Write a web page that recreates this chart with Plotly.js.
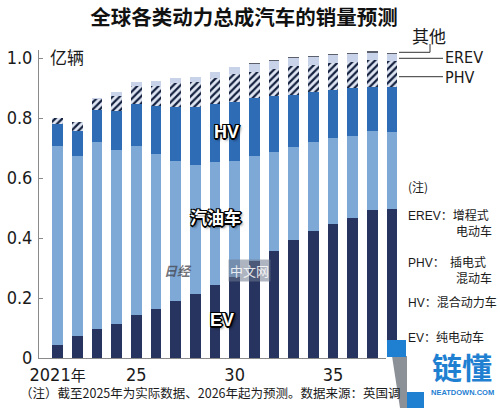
<!DOCTYPE html>
<html>
<head>
<meta charset="utf-8">
<script src="https://cdn.plot.ly/plotly-3.0.1.min.js"></script>
<style>
  html, body { margin: 0; padding: 0; background: #fff; }
  #chart { width: 500px; height: 408px; }
</style>
</head>
<body>
<div id="chart"></div>
<script>
// Global sales forecast by powertrain (100 million vehicles)
const years = [2021, 2022, 2023, 2024, 2025, 2026, 2027, 2028, 2029,
               2030, 2031, 2032, 2033, 2034, 2035, 2036, 2037, 2038];
const ev       = [0.045, 0.074, 0.098, 0.112, 0.145, 0.164, 0.190, 0.212, 0.245,
                  0.270, 0.323, 0.358, 0.392, 0.423, 0.448, 0.467, 0.492, 0.496];
const gasoline = [0.663, 0.600, 0.622, 0.583, 0.562, 0.517, 0.467, 0.432, 0.407,
                  0.388, 0.349, 0.328, 0.311, 0.297, 0.284, 0.272, 0.264, 0.257];
const hv       = [0.071, 0.084, 0.106, 0.127, 0.140, 0.159, 0.181, 0.194, 0.196,
                  0.195, 0.194, 0.187, 0.175, 0.166, 0.160, 0.161, 0.149, 0.149];
const phv      = [0.021, 0.029, 0.036, 0.053, 0.061, 0.068, 0.078, 0.081, 0.085,
                  0.094, 0.087, 0.091, 0.097, 0.092, 0.091, 0.088, 0.087, 0.087];
const erev     = [0.000, 0.000, 0.005, 0.013, 0.011, 0.017, 0.017, 0.019, 0.022,
                  0.022, 0.028, 0.025, 0.024, 0.027, 0.026, 0.026, 0.026, 0.025];
const other    = [0, 0, 0, 0, 0, 0, 0, 0, 0,
                  0, 0.003, 0.005, 0.004, 0.003, 0.005, 0.004, 0.005, 0.004];

const xTickVals = [2021, 2025, 2030, 2035];
const xTickText = ['2021<span style="font-size:15px">年</span>', '25', '30', '35'];
const yTickVals = [0, 0.2, 0.4, 0.6, 0.8, 1.0];
const yTickText = ['0', '0.2', '0.4', '0.6', '0.8', '1.0'];

// plot frame in pixels
const W = 500, H = 408;
const L = 39, R = 404, T = 50, B = 358;
const px = x => (x - L) / (R - L);
const py = y => (B - y) / (B - T);

const CJK = '"Noto Sans CJK SC", "Noto Sans", sans-serif';
const NARROW = '"Liberation Sans Narrow", "DejaVu Sans Condensed", "Liberation Sans", ' + CJK;
const LAT = '<span style="font-family:Liberation Sans Narrow, Liberation Sans">';
const BARW = 0.545;

function layer(name, vals, color, extra) {
  return {
    type: 'bar', name: name, x: years, y: vals, width: BARW,
    marker: Object.assign({ color: color, line: { width: 0 } }, extra || {}),
    hoverinfo: 'skip', showlegend: false
  };
}

const traces = [
  layer('EV', ev, '#27345f'),
  layer('汽油车', gasoline, '#7ea9d6'),
  layer('HV', hv, '#2f6cb6'),
  layer('PHV', phv, '#e0e6f3', {
    pattern: { shape: '/', fgcolor: '#14213f', bgcolor: '#e0e6f3', size: 5, solidity: 0.45 }
  }),
  layer('EREV', erev, '#c8d3ea'),
  layer('其他', other, '#5b606c')
];

const outline = '1px 1px 0 #000, -1px -1px 0 #000, 1px -1px 0 #000, -1px 1px 0 #000, 0 2px 0 #000, 2px 0 0 #000, 2px 2px 3px rgba(0,0,0,0.7)';

function note(text, x, y, opts) {
  return Object.assign({
    text: text, xref: 'paper', yref: 'paper', x: px(x), y: py(y),
    xanchor: 'left', yanchor: 'middle', showarrow: false, align: 'left',
    font: { family: CJK, size: 12, color: '#1a1a1a' }
  }, opts || {});
}

const annotations = [
  note('亿辆', 48, 57, { font: { family: CJK, size: 17, color: '#1a1a1a' } }),
  // labels inside the bars
  note('HV', 226, 132, { xanchor: 'center',
    font: { family: '"Liberation Sans", sans-serif', size: 18, weight: 700, color: '#fff', shadow: outline } }),
  note('汽油车', 215, 216, { xanchor: 'center',
    font: { family: CJK, size: 17, weight: 700, color: '#fff', shadow: outline } }),
  note('EV', 222, 320, { xanchor: 'center',
    font: { family: '"Liberation Sans", sans-serif', size: 18, weight: 700, color: '#fff', shadow: outline } }),
  // call-outs on the right of the last bar
  note('其他', 410, 35, { font: { family: CJK, size: 17, color: '#1a1a1a' } }),
  note('EREV', 444, 57.5, { borderpad: 0, font: { family: NARROW, size: 16, color: '#1a1a1a' } }),
  note('PHV', 444, 77, { borderpad: 0, font: { family: NARROW, size: 16, color: '#1a1a1a' } }),
  // glossary
  note('(注)', 406, 186),
  note(LAT + 'EREV</span>：增程式<br>' + LAT + '　　　　</span>电动车', 406, 222.5),
  note(LAT + 'PHV</span>：  插电式<br>' + LAT + '　　　　</span>混动车', 406, 269.5),
  note(LAT + 'HV</span>：混合动力车', 406, 301),
  note(LAT + 'EV</span>：纯电动车', 406, 336),
  // footnote
  note('（注）截至2025年为实际数据、2026年起为预测。数据来源：英国调', 18, 393, { font: { family: CJK, size: 12.5, color: '#1a1a1a' } }),
  // faint publisher mark over the bars
  note('日经', 178, 270, { xanchor: 'center',
    font: { family: CJK, size: 13, weight: 700, color: 'rgba(70,70,80,0.75)', style: 'italic' } }),
  note('中文网', 249, 270, { xanchor: 'center', bgcolor: 'rgba(110,120,140,0.55)', borderpad: 1,
    font: { family: CJK, size: 13, color: 'rgba(255,255,255,0.85)' } }),
  // corner logo
  note('链懂', 462, 365.5, { xanchor: 'center',
    font: { family: CJK, size: 30, weight: 700, color: '#1f80d2' } }),
  note('NEATDOWN.COM', 463, 392.5, { xanchor: 'center', borderpad: 0,
    font: { family: '"Liberation Sans", sans-serif', size: 7.5, weight: 700, color: '#1f80d2' } })
];

const lineStyle = { color: '#333', width: 1 };
const shapes = [
  { type: 'path', xref: 'paper', yref: 'paper', line: lineStyle,
    path: `M ${px(399)} ${py(52.3)} L ${px(430)} ${py(52.3)} L ${px(430)} ${py(44)}` },
  { type: 'line', xref: 'paper', yref: 'paper', line: lineStyle,
    x0: px(399), x1: px(443), y0: py(58.3), y1: py(58.3) },
  { type: 'line', xref: 'paper', yref: 'paper', line: lineStyle,
    x0: px(399), x1: px(443), y0: py(76.7), y1: py(76.7) },
  // logo panel
  { type: 'rect', xref: 'paper', yref: 'paper', layer: 'above', line: { width: 0 }, fillcolor: '#fff',
    x0: px(386), x1: px(500), y0: py(340), y1: py(408) },
  { type: 'path', xref: 'paper', yref: 'paper', layer: 'above', line: { width: 0 }, fillcolor: '#8c9198',
    path: `M ${px(392)} ${py(356)} L ${px(407)} ${py(356)} L ${px(407)} ${py(392)} L ${px(424)} ${py(392)} L ${px(424)} ${py(408)} L ${px(400)} ${py(408)} Z` },
  { type: 'rect', xref: 'paper', yref: 'paper', layer: 'above', line: { width: 0 }, fillcolor: '#1f80d2',
    x0: px(387), x1: px(406), y0: py(340), y1: py(357) },
  { type: 'rect', xref: 'paper', yref: 'paper', layer: 'above', line: { width: 0 }, fillcolor: '#1f80d2',
    x0: px(407), x1: px(424), y0: py(392), y1: py(408) }
];

const layout = {
  width: W, height: H,
  margin: { l: L, r: W - R, t: T, b: H - B, pad: 0 },
  paper_bgcolor: '#fff', plot_bgcolor: '#fff',
  barmode: 'stack',
  showlegend: false,
  hovermode: false,
  title: {
    text: '全球各类动力总成汽车的销量预测',
    x: 244 / W, xanchor: 'center', xref: 'container',
    y: 1 - 17.5 / H, yanchor: 'middle', yref: 'container',
    font: { family: CJK, size: 20.5, weight: 700, color: '#111' }
  },
  xaxis: {
    range: [2020.054, 2038.61], tickvals: xTickVals, ticktext: xTickText,
    showgrid: false, zeroline: false, showline: true, linecolor: '#8a8a8a', linewidth: 1,
    ticks: '', tickfont: { family: NARROW, size: 18, color: '#1a1a1a' }, fixedrange: true
  },
  yaxis: {
    range: [0, (B - T) / 300], tickvals: yTickVals, ticktext: yTickText,
    showgrid: false, zeroline: false, showline: true, linecolor: '#8a8a8a', linewidth: 1,
    ticks: 'inside', ticklen: 4, tickcolor: '#8a8a8a', ticklabelstandoff: 2,
    tickfont: { family: NARROW, size: 18, color: '#1a1a1a' }, fixedrange: true
  },
  annotations: annotations,
  shapes: shapes
};

Plotly.newPlot('chart', traces, layout, { staticPlot: true, displayModeBar: false });
</script>
</body>
</html>
